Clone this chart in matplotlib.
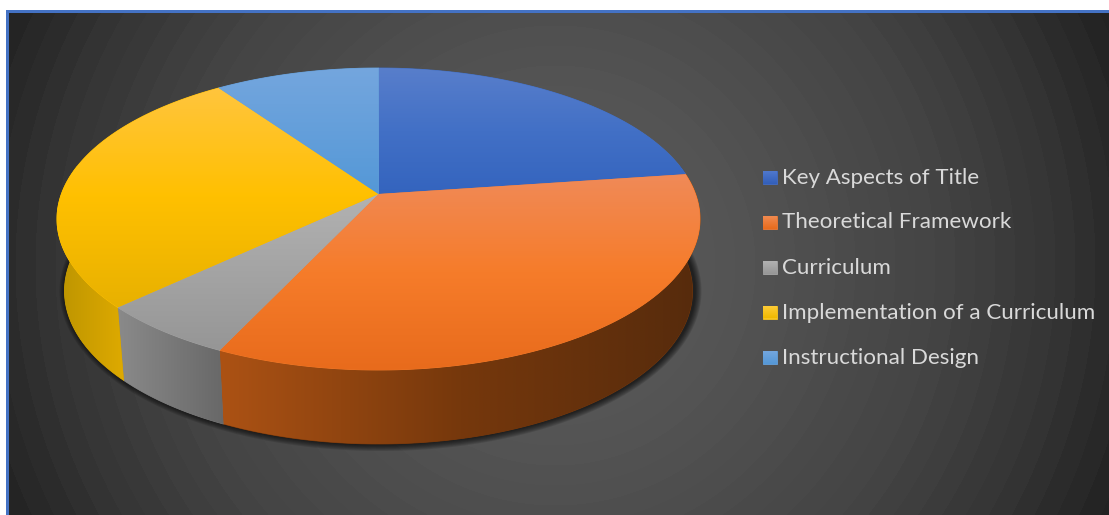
import numpy as np
import matplotlib
matplotlib.use("Agg")
from matplotlib import pyplot as plt
from matplotlib.colors import LinearSegmentedColormap
from matplotlib.patches import Polygon, Rectangle

categories = ["Key Aspects of Title", "Theoretical Framework", "Curriculum",
              "Implementation of a Curriculum", "Instructional Design"]
shares = [22.8, 34.2, 6, 27.3, 9.7]

# top face colours, upper edge to lower edge of each slice
top_colors = [
    [(88, 126, 203), (66, 112, 198), (52, 100, 190)],
    [(240, 138, 88), (246, 124, 42), (232, 107, 28)],
    [(178, 178, 178), (150, 150, 150)],
    [(255, 197, 62), (255, 192, 0), (232, 177, 0)],
    [(116, 166, 222), (84, 152, 215)],
]
# side wall colours, left to right
wall_colors = [
    [(45, 75, 140), (35, 60, 115)],
    [(172, 82, 20), (118, 56, 12), (86, 43, 12)],
    [(138, 138, 138), (104, 104, 104)],
    [(188, 148, 0), (222, 170, 0)],
    [(60, 110, 160), (50, 90, 130)],
]
swatch_colors = [
    [(80, 120, 205), (50, 95, 185)],
    [(240, 138, 80), (232, 107, 28)],
    [(178, 178, 178), (150, 150, 150)],
    [(255, 205, 60), (240, 185, 0)],
    [(116, 166, 222), (84, 152, 215)],
]

WIDTH, HEIGHT = 1109, 515
CX, CY, RX, RY = 378.5, 219.0, 321.5, 151.0   # rim of the top face
BX, BY, BRX, BRY = 378.5, 291.0, 314.0, 153.0  # rim of the bottom face
TILT = 0.1656


def to_cmap(stops):
    return LinearSegmentedColormap.from_list("c", [tuple(v / 255 for v in s) for s in stops])


def rim(theta):
    # theta runs clockwise from 12 o'clock, foreshortened for the tilted disc
    x, y = np.sin(theta), np.cos(theta)
    d = 1 + TILT * y
    return x * np.sqrt(1 - TILT ** 2) / d, (y + TILT) / d


def gradient_fill(ax, xs, ys, stops, z, vertical=True):
    cmap = to_cmap(stops)
    poly = Polygon(np.column_stack([xs, ys]), closed=True, fc=cmap(0.5), ec=cmap(0.5), lw=0.6, zorder=z)
    ax.add_patch(poly)
    grad = np.linspace(0, 1, 256).reshape(-1, 1) if vertical else np.linspace(0, 1, 256).reshape(1, -1)
    im = ax.imshow(grad, cmap=cmap, vmin=0, vmax=1, aspect="auto", interpolation="bilinear",
                   extent=[min(xs), max(xs), max(ys), min(ys)], zorder=z + 0.01)
    im.set_clip_path(poly)


fig = plt.figure(figsize=(WIDTH / 100, HEIGHT / 100), dpi=100)
ax = fig.add_axes([0, 0, 1, 1])
ax.axis("off")

# banded radial backdrop
gx, gy = np.meshgrid(np.arange(WIDTH), np.arange(HEIGHT))
dist = np.hypot(gx - 555, gy - 265)
dist = np.floor(dist / 20) * 20 + 10
shade = np.interp(dist, [0, 177, 381, 503, 600], [90, 84, 68, 53, 34])
ax.imshow(shade, cmap="gray", vmin=0, vmax=255, extent=[0, WIDTH, HEIGHT, 0], aspect="auto", zorder=0)

# white margin and blue frame on the left and top
ax.add_patch(Rectangle((0, 0), 5.5, HEIGHT, fc="white", ec="none", zorder=1))
ax.add_patch(Rectangle((0, 0), WIDTH, 10, fc="white", ec="none", zorder=1))
ax.add_patch(Rectangle((5.5, 10), 3, HEIGHT, fc="#4472C4", ec="none", zorder=1))
ax.add_patch(Rectangle((5.5, 10), WIDTH, 2.7, fc="#4472C4", ec="none", zorder=1))

# soft shadow below the disc
t = np.linspace(0, 2 * np.pi, 400)
for grow in range(7, 0, -1):
    ax.fill(BX + 2 + (BRX + grow) * np.sin(t), BY + (BRY + grow) * np.cos(t),
            color="black", alpha=0.12, lw=0, zorder=2)

edges = np.cumsum([0] + shares) / sum(shares) * 2 * np.pi

# side walls first, the top face covers the hidden back part
for i in range(len(shares)):
    th = np.linspace(edges[i], edges[i + 1], 200)
    u, v = rim(th)
    tx, ty = CX + RX * u, CY - RY * v
    bx, by = BX + BRX * u, BY - BRY * v
    keep = v < 0.35
    if keep.sum() < 2:
        continue
    xs = np.r_[tx[keep], bx[keep][::-1]]
    ys = np.r_[ty[keep], by[keep][::-1]]
    gradient_fill(ax, xs, ys, wall_colors[i], 3, vertical=False)

for i in range(len(shares)):
    th = np.linspace(edges[i], edges[i + 1], 300)
    u, v = rim(th)
    xs = np.r_[CX, CX + RX * u]
    ys = np.r_[CY - RY * TILT, CY - RY * v]
    gradient_fill(ax, xs, ys, top_colors[i], 4)

# legend
row_y = [177.5, 222.5, 267.5, 312, 357.5]
baselines = [184, 228.5, 273.5, 319, 364]
for name, y, base, stops in zip(categories, row_y, baselines, swatch_colors):
    gradient_fill(ax, [763, 777, 777, 763], [y - 6.5, y - 6.5, y + 6.5, y + 6.5], stops, 5)
    ax.text(782, base, name, color="#D9D9D9", fontsize=16.1, family="Lato", va="baseline", ha="left", zorder=6)

ax.set_xlim(0, WIDTH)
ax.set_ylim(HEIGHT, 0)
fig.savefig("out.png", dpi=100)
